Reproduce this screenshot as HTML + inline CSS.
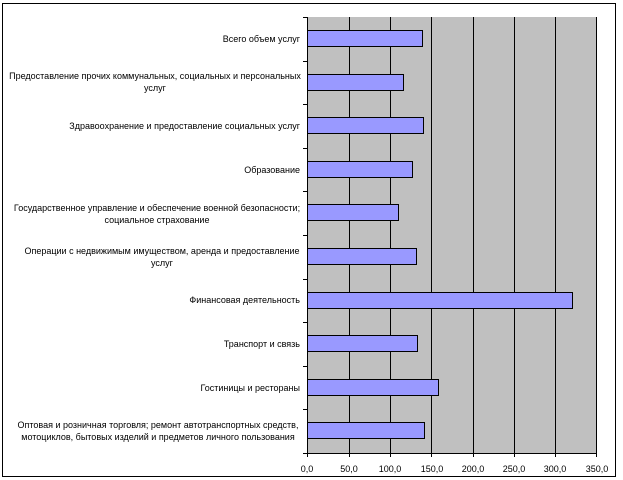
<!DOCTYPE html>
<html><head><meta charset="utf-8"><style>
html,body{margin:0;padding:0;background:#fff}
svg{display:block}
text{font-family:"Liberation Sans",sans-serif;font-size:9px;fill:#000}
</style></head><body>
<svg width="623" height="480" viewBox="0 0 623 480">
<rect x="2.5" y="3.5" width="613" height="473" fill="#fff" stroke="#000" stroke-width="1"/>
<rect x="307" y="17" width="289.5" height="436" fill="#c0c0c0"/>
<g stroke="#000" stroke-width="1">
<line x1="349.5" y1="17" x2="349.5" y2="453"/>
<line x1="390.5" y1="17" x2="390.5" y2="453"/>
<line x1="431.5" y1="17" x2="431.5" y2="453"/>
<line x1="473.5" y1="17" x2="473.5" y2="453"/>
<line x1="514.5" y1="17" x2="514.5" y2="453"/>
<line x1="555.5" y1="17" x2="555.5" y2="453"/>
<line x1="596.5" y1="17" x2="596.5" y2="453"/>
<line x1="307.5" y1="17" x2="307.5" y2="453"/>
<line x1="307" y1="453.5" x2="597" y2="453.5"/>
<line x1="303" y1="17.5" x2="307" y2="17.5"/>
<line x1="303" y1="61.5" x2="307" y2="61.5"/>
<line x1="303" y1="104.5" x2="307" y2="104.5"/>
<line x1="303" y1="148.5" x2="307" y2="148.5"/>
<line x1="303" y1="191.5" x2="307" y2="191.5"/>
<line x1="303" y1="235.5" x2="307" y2="235.5"/>
<line x1="303" y1="279.5" x2="307" y2="279.5"/>
<line x1="303" y1="322.5" x2="307" y2="322.5"/>
<line x1="303" y1="366.5" x2="307" y2="366.5"/>
<line x1="303" y1="409.5" x2="307" y2="409.5"/>
<line x1="303" y1="453.5" x2="307" y2="453.5"/>
<line x1="307.5" y1="453" x2="307.5" y2="457"/>
<line x1="349.5" y1="453" x2="349.5" y2="457"/>
<line x1="390.5" y1="453" x2="390.5" y2="457"/>
<line x1="431.5" y1="453" x2="431.5" y2="457"/>
<line x1="473.5" y1="453" x2="473.5" y2="457"/>
<line x1="514.5" y1="453" x2="514.5" y2="457"/>
<line x1="555.5" y1="453" x2="555.5" y2="457"/>
<line x1="596.5" y1="453" x2="596.5" y2="457"/>
</g>
<g fill="#9999ff" stroke="#000" stroke-width="1">
<rect x="307.5" y="30.5" width="115" height="16"/>
<rect x="307.5" y="74.5" width="96" height="16"/>
<rect x="307.5" y="117.5" width="116" height="16"/>
<rect x="307.5" y="161.5" width="105" height="16"/>
<rect x="307.5" y="204.5" width="91" height="16"/>
<rect x="307.5" y="248.5" width="109" height="16"/>
<rect x="307.5" y="292.5" width="265" height="16"/>
<rect x="307.5" y="335.5" width="110" height="16"/>
<rect x="307.5" y="379.5" width="131" height="16"/>
<rect x="307.5" y="422.5" width="117" height="16"/>
</g>
<g text-anchor="middle">
<text x="307" y="472">0,0</text>
<text x="349" y="472">50,0</text>
<text x="390" y="472">100,0</text>
<text x="432" y="472">150,0</text>
<text x="473" y="472">200,0</text>
<text x="514" y="472">250,0</text>
<text x="555" y="472">300,0</text>
<text x="597" y="472">350,0</text>
</g>
<g text-anchor="end">
<text x="300" y="42">Всего объем услуг</text>
<text x="300" y="129">Здравоохранение и предоставление социальных услуг</text>
<text x="300" y="173">Образование</text>
<text x="300" y="303">Финансовая деятельность</text>
<text x="300" y="347">Транспорт и связь</text>
<text x="300" y="391">Гостиницы и рестораны</text>
</g>
<g text-anchor="middle">
<text x="155" y="79">Предоставление прочих коммунальных, социальных и персональных</text>
<text x="155" y="91">услуг</text>
<text x="157" y="211">Государственное управление и обеспечение военной безопасности;</text>
<text x="157" y="223">социальное страхование</text>
<text x="162" y="254">Операции с недвижимым имуществом, аренда и предоставление</text>
<text x="162" y="266">услуг</text>
<text x="158" y="428">Оптовая и розничная торговля; ремонт автотранспортных средств,</text>
<text x="158" y="440">мотоциклов, бытовых изделий и предметов личного пользования</text>
</g>
</svg>
</body></html>
